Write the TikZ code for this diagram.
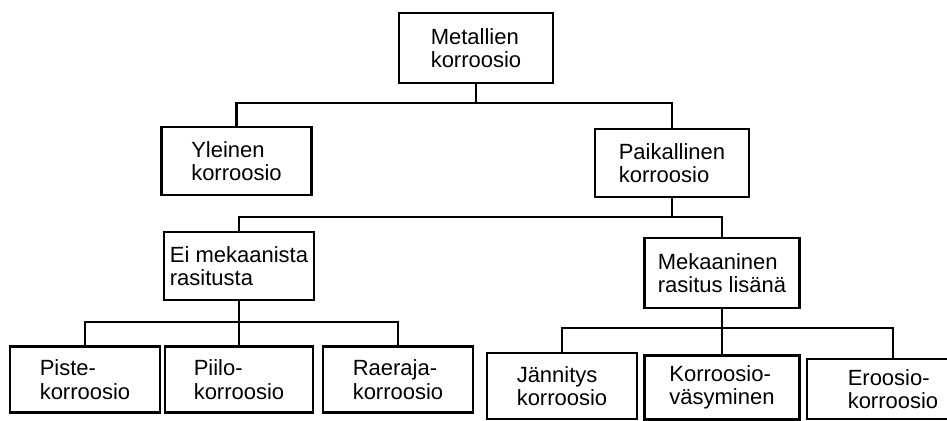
\documentclass[tikz,border=0pt]{standalone}
\usepackage{fontspec}
\setmainfont{Liberation Sans}
\begin{document}
\begin{tikzpicture}[x=0.75pt,y=-0.75pt,line width=2.1pt,
  laatikko/.style={draw,align=left,inner sep=0pt,font=\fontsize{16.5}{17.5}\selectfont}]
\useasboundingbox (0,0) rectangle (947,421);
\clip (0,0) rectangle (947,421);
% ylin taso
\node[laatikko,minimum width=115.5pt,minimum height=52.5pt] (metal) at (476,48) {Metallien\\korroosio};
\node[laatikko,minimum width=113pt,minimum height=51pt] (yleinen) at (236.5,161) {Yleinen\\korroosio};
\node[laatikko,minimum width=115.5pt,minimum height=51pt] (paik) at (672,163) {Paikallinen\\korroosio};
% paikallinen
\node[laatikko,minimum width=112.5pt,minimum height=51pt] (ei) at (239,266) {Ei mekaanista\\rasitusta};
\node[laatikko,minimum width=116pt,minimum height=52.5pt] (mek) at (722,273) {Mekaaninen\\rasitus lisänä};
% alin taso
\node[laatikko,minimum width=112.5pt,minimum height=50pt] (piste) at (85,379.5) {Piste-\\korroosio};
\node[laatikko,minimum width=111pt,minimum height=50pt] (piilo) at (239,379.5) {Piilo-\\korroosio};
\node[laatikko,minimum width=112.5pt,minimum height=50pt] (raeraja) at (398,379.5) {Raeraja-\\korroosio};
\node[laatikko,minimum width=112.5pt,minimum height=49.5pt] (jann) at (562,386) {Jännitys\\korroosio};
\node[laatikko,minimum width=116pt,minimum height=47.5pt] (vas) at (722,387.5) {Korroosio-\\väsyminen};
\node[laatikko,minimum width=129pt,minimum height=45pt] (eroosio) at (893,389) {Eroosio-\\korroosio};
% viivat
\coordinate (h1) at (0,103);
\coordinate (h2) at (0,217);
\coordinate (h3) at (0,322);
\coordinate (h4) at (0,328);
\draw (metal.south) -- (metal.south |- h1) -| (yleinen.north);
\draw (metal.south |- h1) -| (paik.north);
\draw (paik.south) -- (paik.south |- h2) -| (ei.north);
\draw (paik.south |- h2) -| (mek.north);
\draw (ei.south) -- (ei.south |- h3) -| (piste.north);
\draw (ei.south |- h3) -- (piilo.north);
\draw (ei.south |- h3) -| (raeraja.north);
\draw (mek.south) -- (mek.south |- h4) -| (jann.north);
\draw (mek.south |- h4) -- (vas.north);
\draw (mek.south |- h4) -| (eroosio.north);
\end{tikzpicture}
\end{document}
